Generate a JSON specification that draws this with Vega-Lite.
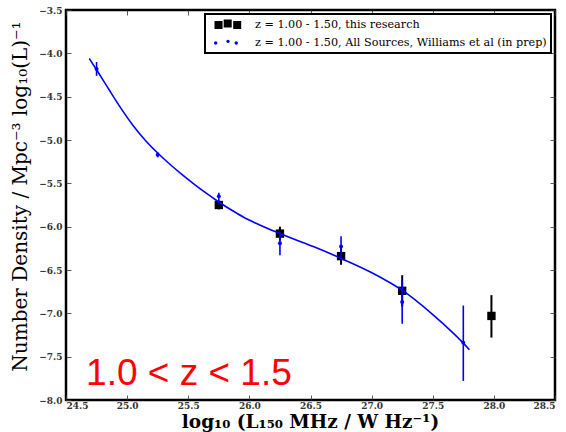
{
  "$schema": "https://vega.github.io/schema/vega-lite/v6.json",
  "width": 489,
  "height": 390,
  "autosize": "none",
  "padding": {"left": 66, "top": 10, "right": 11, "bottom": 32},
  "background": "white",
  "config": {
    "view": {"stroke": "black", "strokeWidth": 2.5},
    "axis": {
      "grid": false,
      "domain": false,
      "labelFont": "DejaVu Serif",
      "labelFontWeight": "bold",
      "labelFontSize": 9,
      "labelColor": "#333333",
      "tickColor": "#333333",
      "tickSize": -5,
      "tickWidth": 0.8
    }
  },
  "datasets": {
    "research": [
      {"lum": 25.75, "density": -5.75, "lo": -5.80, "hi": -5.70},
      {"lum": 26.25, "density": -6.08, "lo": -6.16, "hi": -6.00},
      {"lum": 26.75, "density": -6.34, "lo": -6.44, "hi": -6.24},
      {"lum": 27.25, "density": -6.74, "lo": -6.92, "hi": -6.56},
      {"lum": 27.98, "density": -7.03, "lo": -7.28, "hi": -6.79}
    ],
    "williams": [
      {"lum": 24.75, "density": -4.18, "lo": -4.26, "hi": -4.10},
      {"lum": 25.25, "density": -5.17, "lo": -5.20, "hi": -5.14},
      {"lum": 25.75, "density": -5.65, "lo": -5.72, "hi": -5.61},
      {"lum": 26.25, "density": -6.19, "lo": -6.33, "hi": -6.07},
      {"lum": 26.75, "density": -6.23, "lo": -6.35, "hi": -6.11},
      {"lum": 27.25, "density": -6.87, "lo": -7.12, "hi": -6.62},
      {"lum": 27.75, "density": -7.34, "lo": -7.78, "hi": -6.91}
    ],
    "fit": [
      {"lum": 24.69, "density": -4.06},
      {"lum": 24.75, "density": -4.19},
      {"lum": 24.85, "density": -4.415},
      {"lum": 24.95, "density": -4.635},
      {"lum": 25.05, "density": -4.835},
      {"lum": 25.15, "density": -5.005},
      {"lum": 25.25, "density": -5.15},
      {"lum": 25.35, "density": -5.28},
      {"lum": 25.45, "density": -5.40},
      {"lum": 25.55, "density": -5.512},
      {"lum": 25.65, "density": -5.617},
      {"lum": 25.75, "density": -5.715},
      {"lum": 25.85, "density": -5.805},
      {"lum": 25.95, "density": -5.888},
      {"lum": 26.05, "density": -5.958},
      {"lum": 26.15, "density": -6.022},
      {"lum": 26.25, "density": -6.08},
      {"lum": 26.523, "density": -6.23},
      {"lum": 26.741, "density": -6.36},
      {"lum": 27.014, "density": -6.54},
      {"lum": 27.246, "density": -6.73},
      {"lum": 27.505, "density": -7.02},
      {"lum": 27.75, "density": -7.344},
      {"lum": 27.80, "density": -7.42}
    ],
    "series": [
      {"lum": 24.5, "density": -3.5, "name": "z = 1.00 - 1.50, this research"},
      {"lum": 24.5, "density": -3.5, "name": "z = 1.00 - 1.50, All Sources, Williams et al (in prep)"}
    ],
    "label": [
      {"lum": 24.664, "density": -7.825, "text": "1.0 < z < 1.5"}
    ]
  },
  "layer": [
    {
      "data": {"name": "research"},
      "mark": {"type": "rule", "color": "black", "strokeWidth": 2},
      "encoding": {
        "x": {"field": "lum", "type": "quantitative", "scale": {"domain": [24.5, 28.5], "nice": false, "zero": false},
          "axis": {"values": [24.5, 25.0, 25.5, 26.0, 26.5, 27.0, 27.5, 28.0, 28.5], "format": ".1f", "labelPadding": 6,
            "title": "log₁₀ (L₁₅₀ MHz / W Hz⁻¹)", "titleFont": "DejaVu Serif", "titleFontSize": 18.5, "titleFontWeight": "bold", "titleColor": "black",
            "titleX": 244, "titleY": 27.5, "titleBaseline": "alphabetic", "titleAlign": "center"}},
        "y": {"field": "lo", "type": "quantitative", "scale": {"domain": [-8, -3.5], "nice": false, "zero": false},
          "axis": {"values": [-3.5, -4.0, -4.5, -5.0, -5.5, -6.0, -6.5, -7.0, -7.5, -8.0], "format": ".1f", "labelPadding": 9,
            "title": "Number Density / Mpc⁻³ log₁₀(L)⁻¹", "titleFont": "DejaVu Serif", "titleFontSize": 20, "titleFontWeight": "normal", "titleColor": "black",
            "titleX": -40, "titleY": 186, "titleBaseline": "alphabetic", "titleAlign": "center", "titleAngle": -90}},
        "y2": {"field": "hi"}
      }
    },
    {
      "data": {"name": "research"},
      "mark": {"type": "point", "shape": "square", "filled": true, "color": "black", "size": 70, "opacity": 1},
      "encoding": {
        "x": {"field": "lum", "type": "quantitative", "axis": null},
        "y": {"field": "density", "type": "quantitative", "axis": null}
      }
    },
    {
      "data": {"name": "williams"},
      "mark": {"type": "rule", "color": "blue", "strokeWidth": 1.6},
      "encoding": {
        "x": {"field": "lum", "type": "quantitative", "axis": null},
        "y": {"field": "lo", "type": "quantitative", "axis": null},
        "y2": {"field": "hi"}
      }
    },
    {
      "data": {"name": "williams"},
      "mark": {"type": "point", "shape": "circle", "filled": true, "color": "blue", "size": 16, "opacity": 1},
      "encoding": {
        "x": {"field": "lum", "type": "quantitative", "axis": null},
        "y": {"field": "density", "type": "quantitative", "axis": null}
      }
    },
    {
      "data": {"name": "fit"},
      "mark": {"type": "line", "color": "blue", "strokeWidth": 1.6, "interpolate": "monotone"},
      "encoding": {
        "x": {"field": "lum", "type": "quantitative", "axis": null},
        "y": {"field": "density", "type": "quantitative", "axis": null}
      }
    },
    {
      "data": {"name": "series"},
      "mark": {"type": "point", "filled": true, "opacity": 0},
      "encoding": {
        "x": {"field": "lum", "type": "quantitative",
          "axis": {"orient": "top", "labels": false, "title": null, "values": [24.5, 25.0, 25.5, 26.0, 26.5, 27.0, 27.5, 28.0, 28.5]}},
        "y": {"field": "density", "type": "quantitative",
          "axis": {"orient": "right", "labels": false, "title": null, "values": [-3.5, -4.0, -4.5, -5.0, -5.5, -6.0, -6.5, -7.0, -7.5, -8.0]}},
        "color": {"field": "name", "type": "nominal",
          "scale": {"domain": ["z = 1.00 - 1.50, this research", "z = 1.00 - 1.50, All Sources, Williams et al (in prep)"], "range": ["black", "blue"]},
          "legend": {"orient": "top-right", "offset": 4, "title": null, "strokeColor": "black", "fillColor": "white",
            "padding": 4, "labelFont": "DejaVu Serif", "labelFontSize": 11.2, "labelColor": "black", "rowPadding": 5,
            "symbolOpacity": 1, "labelOffset": 32, "labelLimit": 400, "cornerRadius": 0, "symbolSize": 144,
            "encode": {"legend": {"update": {"strokeWidth": {"value": 2}}}}}},
        "shape": {"field": "name", "type": "nominal",
          "scale": {"domain": ["z = 1.00 - 1.50, this research", "z = 1.00 - 1.50, All Sources, Williams et al (in prep)"],
            "range": ["M-0.25,-0.67H1.09V0.67H-0.25Z M1.28,-0.92H2.62V0.42H1.28Z M2.86,-0.67H4.2V0.67H2.86Z", "M-0.33,0A0.28,0.28 0 1,0 0.23,0A0.28,0.28 0 1,0 -0.33,0Z M1.72,-0.28A0.28,0.28 0 1,0 2.28,-0.28A0.28,0.28 0 1,0 1.72,-0.28Z M3.1,0A0.28,0.28 0 1,0 3.66,0A0.28,0.28 0 1,0 3.1,0Z"]}}
      }
    },
    {
      "data": {"name": "label"},
      "mark": {"type": "text", "color": "red", "font": "Liberation Sans", "fontSize": 37, "align": "left", "baseline": "alphabetic"},
      "encoding": {
        "x": {"field": "lum", "type": "quantitative", "axis": null},
        "y": {"field": "density", "type": "quantitative", "axis": null},
        "text": {"field": "text", "type": "nominal"}
      }
    }
  ],
  "resolve": {"axis": {"x": "independent", "y": "independent"}}
}
